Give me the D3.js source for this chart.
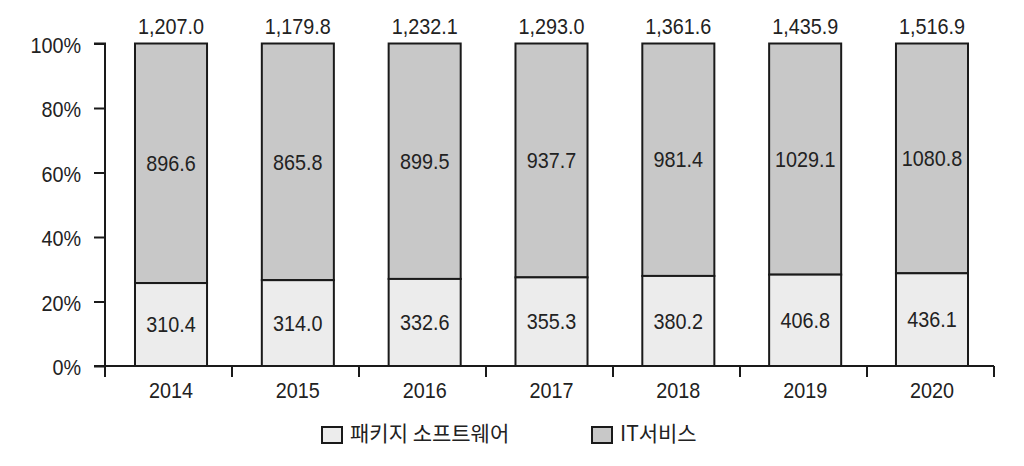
<!DOCTYPE html>
<html><head><meta charset="utf-8">
<script src="https://cdn.jsdelivr.net/npm/d3@7"></script>
<style>
body{margin:0;background:#fff;}
text{font-family:"Liberation Sans",Arial,sans-serif;fill:#222;}
.kr{font-family:"Noto Sans CJK KR",sans-serif;}
</style></head>
<body><svg id="c" width="1024" height="466"></svg>
<script>
const years = ["2014","2015","2016","2017","2018","2019","2020"];
const packageSW = [310.4,314.0,332.6,355.3,380.2,406.8,436.1];
const itServices = [896.6,865.8,899.5,937.7,981.4,1029.1,1080.8];
const totals = [1207.0,1179.8,1232.1,1293.0,1361.6,1435.9,1516.9];
const yTicks = [0,0.2,0.4,0.6,0.8,1.0];
const seriesNames = ["패키지 소프트웨어","IT서비스"];
const colors = ["#ececec","#c8c8c8"];

const svg = d3.select("#c");
const m = {l:105, r:994, t:43.5, b:366};
const xAxisScale = d3.scaleBand().domain(years).range([m.l,m.r]);
const x = d3.scaleBand().domain(years).range([107.6,995.4]).paddingInner(0.432).paddingOuter(0.216);
const y = d3.scaleLinear().domain([0,1]).range([m.b,m.t]);
const fmt1 = d3.format(",.1f");
const SX = 0.9, FS = "22px";

function label(g, px, py, txt, anchor){
  g.append("text").attr("transform",`translate(${px},${py}) scale(${SX},1)`)
    .attr("dy","0.35em").attr("text-anchor",anchor||"middle")
    .style("font-size",FS).text(txt);
}

// bars
years.forEach((yr,i)=>{
  const tot = packageSW[i]+itServices[i];
  const p = packageSW[i]/tot;
  const g = svg.append("g");
  g.append("rect").attr("x",x(yr)).attr("width",x.bandwidth())
    .attr("y",y(1)).attr("height",y(p)-y(1))
    .attr("fill",colors[1]).attr("stroke","#1a1a1a").attr("stroke-width",2);
  g.append("rect").attr("x",x(yr)).attr("width",x.bandwidth())
    .attr("y",y(p)).attr("height",y(0)-y(p))
    .attr("fill",colors[0]).attr("stroke","#1a1a1a").attr("stroke-width",2);
  const cx = x(yr)+x.bandwidth()/2;
  label(g, cx, (y(1)+y(p))/2, itServices[i].toFixed(1));
  label(g, cx, (y(p)+y(0))/2, packageSW[i].toFixed(1));
  label(g, cx, 26, fmt1(totals[i]));
});

// y axis
const ya = svg.append("g").attr("transform",`translate(${m.l},0)`)
  .call(d3.axisLeft(y).tickValues(yTicks).tickFormat(d3.format(".0%")).tickSize(11).tickPadding(13));
ya.select(".domain").attr("d",`M-11,${m.t}H0V${m.b}H-11`).attr("stroke","#1a1a1a").attr("stroke-width",2);
ya.selectAll(".tick line").attr("stroke","#1a1a1a").attr("stroke-width",2);
ya.selectAll(".tick text").style("font-size",FS).attr("fill","#222")
  .attr("x",null).attr("transform",`translate(-24,1.5) scale(${SX},1)`);

// x axis
const xa = svg.append("g").attr("transform",`translate(0,${m.b})`);
xa.append("line").attr("x1",m.l).attr("x2",m.r).attr("stroke","#1a1a1a").attr("stroke-width",2);
const bounds = years.map(yr=>xAxisScale(yr)).concat([m.r]);
xa.selectAll("line.t").data(bounds).join("line").attr("class","t")
  .attr("x1",d=>d).attr("x2",d=>d).attr("y1",0).attr("y2",11).attr("stroke","#1a1a1a").attr("stroke-width",2);
years.forEach(yr=>label(xa, x(yr)+x.bandwidth()/2, 24, yr));

// legend
const lg = svg.append("g");
const lx = [322,592];
seriesNames.forEach((n,i)=>{
  lg.append("rect").attr("x",lx[i]).attr("y",427).attr("width",20).attr("height",16)
    .attr("fill",colors[i]).attr("stroke","#1a1a1a").attr("stroke-width",2);
  lg.append("text").attr("class","kr").attr("x",lx[i]+28).attr("y",434).attr("dy","0.35em")
    .style("font-size","21px").text(n);
});
</script></body></html>
